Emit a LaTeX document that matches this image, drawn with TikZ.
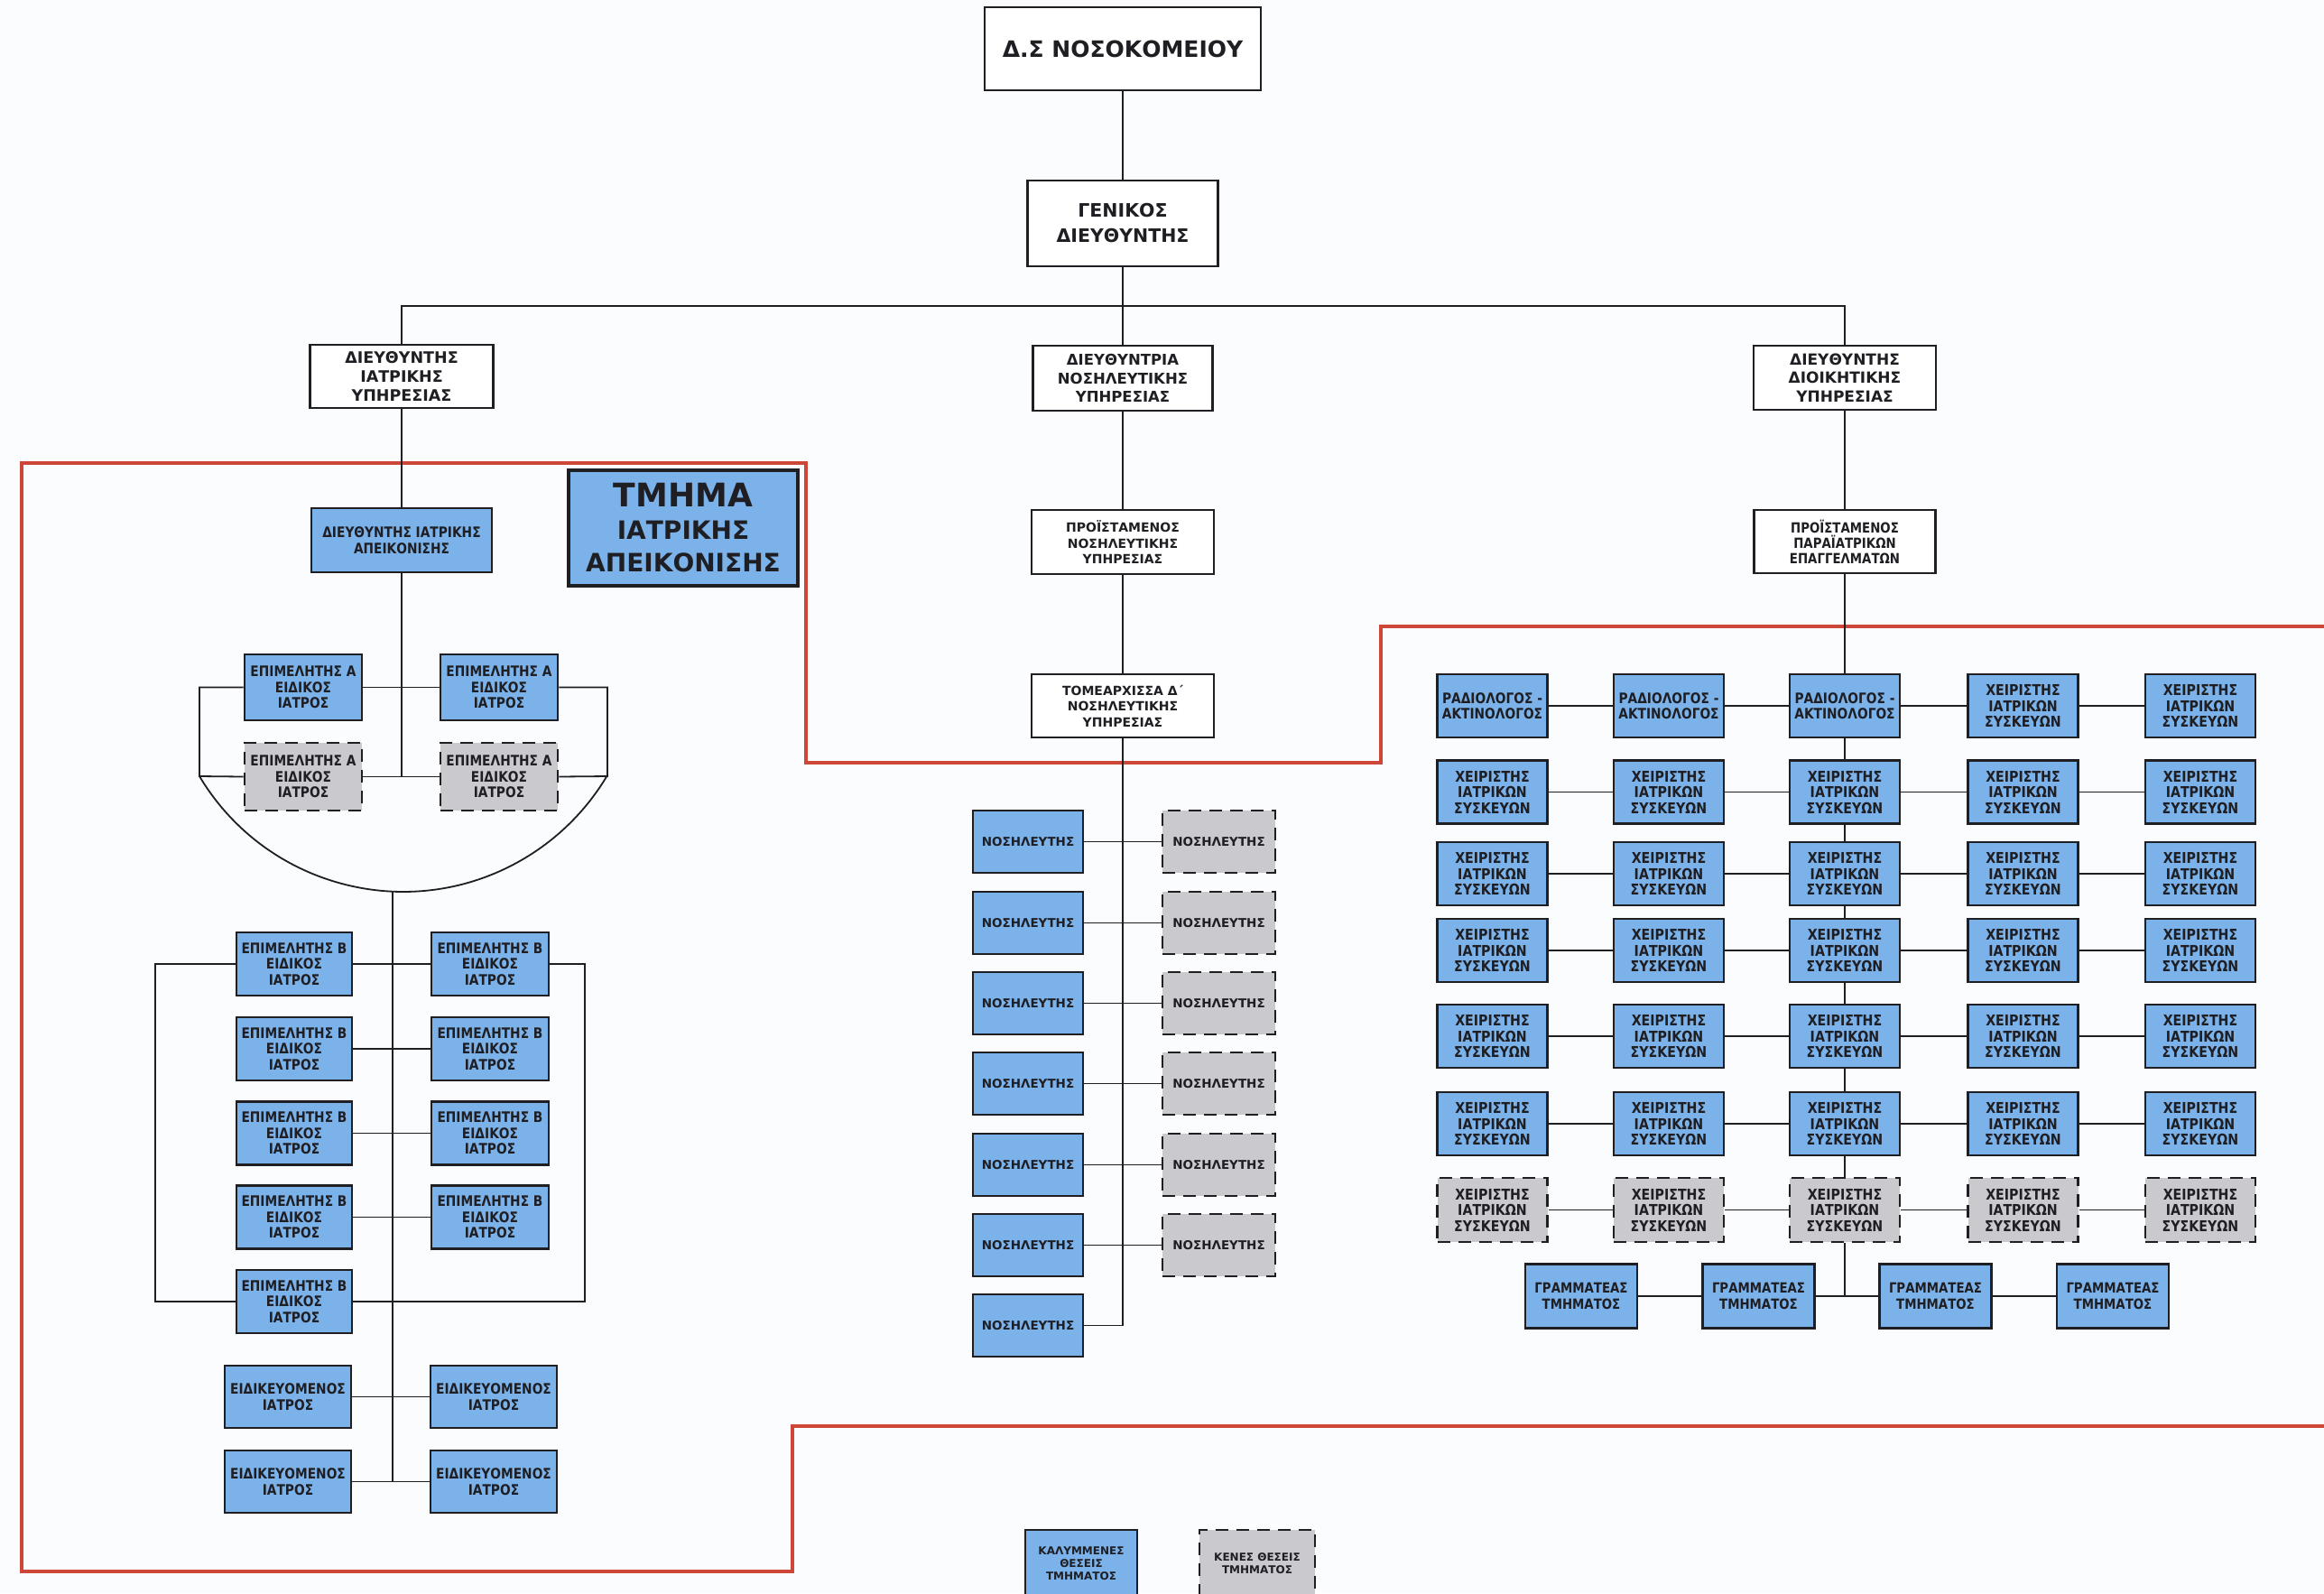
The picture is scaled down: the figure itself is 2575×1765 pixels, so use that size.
\documentclass[tikz,border=0pt]{standalone}
\usepackage{fontspec}
\setmainfont{DejaVu Sans}
\newfontfamily\condfam{DejaVu Sans}[FakeStretch=0.86]
\definecolor{ink}{RGB}{30,30,35}
\definecolor{boxblue}{RGB}{124,178,234}
\definecolor{boxgray}{RGB}{202,202,206}
\definecolor{framered}{RGB}{205,70,55}
\definecolor{paper}{RGB}{251,252,254}
\newcommand{\wideF}[2]{\fontsize{#1}{#2}\selectfont\bfseries}
\newcommand{\condF}[2]{\condfam\fontsize{#1}{#2}\selectfont\bfseries}
\tikzset{
  base/.style={draw=ink, line width=2.8pt, inner sep=0pt, align=center, text=ink},
  whitebox/.style={base, fill=white},
  bluebox/.style={base, fill=boxblue},
  graybox/.style={base, fill=boxgray, dash pattern=on 14pt off 9pt},
  sz/.style 2 args={minimum width=#1pt, minimum height=#2pt},
  conn/.style={draw=ink, line width=1.8pt},
  redframe/.style={draw=framered, line width=4.5pt, line join=miter},
}
\begin{document}
\begin{tikzpicture}[x=1pt,y=-1pt]
\useasboundingbox (0,0) rectangle (2575,1765);
\clip (0,0) rectangle (2575,1765);
\fill[paper] (0,0) rectangle (2575,1765);
% red department frame
\draw[redframe] (2600,694) -- (1530,694) -- (1530,845) -- (893,845) -- (893,513) -- (24,513) -- (24,1741) -- (878,1741) -- (878,1580) -- (2600,1580);

% top levels
\node[whitebox, sz={306}{92}, font=\wideF{25}{30}] (ds) at (1244,54) {Δ.Σ ΝΟΣΟΚΟΜΕΙΟΥ};
\node[whitebox, sz={211}{95}, font=\wideF{20.5}{28}] (gd) at (1244,247.5) {ΓΕΝΙΚΟΣ\\ΔΙΕΥΘΥΝΤΗΣ};
\node[whitebox, sz={203}{70}, font=\wideF{17.5}{20.7}] (dis) at (445,417) {ΔΙΕΥΘΥΝΤΗΣ\\ΙΑΤΡΙΚΗΣ\\ΥΠΗΡΕΣΙΑΣ};
\node[whitebox, sz={199}{72}, font=\wideF{16.5}{20.7}] (dns) at (1244,419) {ΔΙΕΥΘΥΝΤΡΙΑ\\ΝΟΣΗΛΕΥΤΙΚΗΣ\\ΥΠΗΡΕΣΙΑΣ};
\node[whitebox, sz={202}{71}, font=\wideF{17}{20.7}] (ddy) at (2044,418.5) {ΔΙΕΥΘΥΝΤΗΣ\\ΔΙΟΙΚΗΤΙΚΗΣ\\ΥΠΗΡΕΣΙΑΣ};
\node[whitebox, sz={202}{71}, font=\wideF{14}{17.5}] (pns) at (1244,600.5) {ΠΡΟΪΣΤΑΜΕΝΟΣ\\ΝΟΣΗΛΕΥΤΙΚΗΣ\\ΥΠΗΡΕΣΙΑΣ};
\node[whitebox, sz={202}{70}, font=\wideF{14}{17.5}] (tom) at (1244,782) {ΤΟΜΕΑΡΧΙΣΣΑ Δ΄\\ΝΟΣΗΛΕΥΤΙΚΗΣ\\ΥΠΗΡΕΣΙΑΣ};
\node[whitebox, sz={201}{70}, font=\condF{15.5}{17}] (ppe) at (2044,600) {ΠΡΟΪΣΤΑΜΕΝΟΣ\\ΠΑΡΑΪΑΤΡΙΚΩΝ\\ΕΠΑΓΓΕΛΜΑΤΩΝ};

% imaging department, left part
\node[bluebox, sz={200}{71}, font=\condF{16}{18}] (dia) at (445,598.5) {ΔΙΕΥΘΥΝΤΗΣ ΙΑΤΡΙΚΗΣ\\ΑΠΕΙΚΟΝΙΣΗΣ};
\node[bluebox, line width=4pt, sz={254}{128}, font=\wideF{28}{36}] (tm) at (757,585) {{\fontsize{36}{37}\selectfont ΤΜΗΜΑ}\\ΙΑΤΡΙΚΗΣ\\ΑΠΕΙΚΟΝΙΣΗΣ};

\node[bluebox, sz={130}{73}, font=\condF{16}{17.5}] (ea1) at (336,761.5) {ΕΠΙΜΕΛΗΤΗΣ Α\\ΕΙΔΙΚΟΣ\\ΙΑΤΡΟΣ};
\node[bluebox, sz={130}{73}, font=\condF{16}{17.5}] (ea2) at (553,761.5) {ΕΠΙΜΕΛΗΤΗΣ Α\\ΕΙΔΙΚΟΣ\\ΙΑΤΡΟΣ};
\node[graybox, sz={130}{75}, font=\condF{16}{17.5}] (ea3) at (336,860.5) {ΕΠΙΜΕΛΗΤΗΣ Α\\ΕΙΔΙΚΟΣ\\ΙΑΤΡΟΣ};
\node[graybox, sz={130}{75}, font=\condF{16}{17.5}] (ea4) at (553,860.5) {ΕΠΙΜΕΛΗΤΗΣ Α\\ΕΙΔΙΚΟΣ\\ΙΑΤΡΟΣ};

\foreach \i/\y in {1/1068,2/1162,3/1255.5,4/1348.5,5/1442} {
  \node[bluebox, sz={128}{70}, font=\condF{16}{17.5}] (eb\i L) at (326,\y) {ΕΠΙΜΕΛΗΤΗΣ Β\\ΕΙΔΙΚΟΣ\\ΙΑΤΡΟΣ};
}
\foreach \i/\y in {1/1068,2/1162,3/1255.5,4/1348.5} {
  \node[bluebox, sz={130}{70}, font=\condF{16}{17.5}] (eb\i R) at (543,\y) {ΕΠΙΜΕΛΗΤΗΣ Β\\ΕΙΔΙΚΟΣ\\ΙΑΤΡΟΣ};
}
\foreach \i/\y in {1/1547.5,2/1641.5} {
  \node[bluebox, sz={140}{69}, font=\condF{16}{18.5}] (ei\i L) at (319,\y) {ΕΙΔΙΚΕΥΟΜΕΝΟΣ\\ΙΑΤΡΟΣ};
  \node[bluebox, sz={140}{69}, font=\condF{16}{18.5}] (ei\i R) at (547,\y) {ΕΙΔΙΚΕΥΟΜΕΝΟΣ\\ΙΑΤΡΟΣ};
}

% nursing column
\foreach \i/\y in {1/932.5,2/1022.5,3/1111.5,4/1200.5,5/1290.5,6/1379.5,7/1468.5} {
  \node[bluebox, sz={122}{69}, font=\wideF{13.5}{16}] (nb\i) at (1139,\y) {ΝΟΣΗΛΕΥΤΗΣ};
}
\foreach \i/\y in {1/932.5,2/1022.5,3/1111.5,4/1200.5,5/1290.5,6/1379.5} {
  \node[graybox, sz={125}{69}, font=\wideF{13.5}{16}] (ng\i) at (1350.5,\y) {ΝΟΣΗΛΕΥΤΗΣ};
}

% paramedical grid
\foreach \c/\x in {1/1653.5,2/1849,3/2044} {
  \node[bluebox, sz={122}{70}, font=\condF{16}{17.5}] (g1\c) at (\x,782) {ΡΑΔΙΟΛΟΓΟΣ -\\ΑΚΤΙΝΟΛΟΓΟΣ};
}
\foreach \c/\x in {4/2241.5,5/2438} {
  \node[bluebox, sz={122}{70}, font=\condF{16.5}{17.5}] (g1\c) at (\x,782) {ΧΕΙΡΙΣΤΗΣ\\ΙΑΤΡΙΚΩΝ\\ΣΥΣΚΕΥΩΝ};
}
\foreach \c/\x in {1/1653.5,2/1849,3/2044,4/2241.5,5/2438} {
  \foreach \r/\y in {2/877.5,3/968,4/1053,5/1148,6/1245} {
    \node[bluebox, sz={122}{70}, font=\condF{16.5}{17.5}] (g\r\c) at (\x,\y) {ΧΕΙΡΙΣΤΗΣ\\ΙΑΤΡΙΚΩΝ\\ΣΥΣΚΕΥΩΝ};
  }
  \node[graybox, sz={122}{71}, font=\condF{16.5}{17.5}] (g7\c) at (\x,1340.5) {ΧΕΙΡΙΣΤΗΣ\\ΙΑΤΡΙΚΩΝ\\ΣΥΣΚΕΥΩΝ};
}
\foreach \i/\x in {1/1752,2/1948.5,3/2144.5,4/2341} {
  \node[bluebox, sz={124}{71}, font=\condF{15.5}{18}] (s\i) at (\x,1436) {ΓΡΑΜΜΑΤΕΑΣ\\ΤΜΗΜΑΤΟΣ};
}

% legend
\node[bluebox, sz={124}{75}, font=\wideF{12}{14}] (lb) at (1198,1732.5) {ΚΑΛΥΜΜΕΝΕΣ\\ΘΕΣΕΙΣ\\ΤΜΗΜΑΤΟΣ};
\node[graybox, sz={128}{75}, font=\wideF{12}{14}] (lg) at (1393,1732.5) {ΚΕΝΕΣ ΘΕΣΕΙΣ\\ΤΜΗΜΑΤΟΣ};

% coordinates for bends
\coordinate (tA) at (445,860);
\coordinate (arcL) at (221,860);
\coordinate (arcR) at (673,860);
\coordinate (arcB) at (435,988);
\coordinate (tEnd) at (435,1641.5);
\coordinate (bl) at (172,1442);
\coordinate (br) at (648,1442);
\coordinate (sJ) at (2044,1436);

% connectors: top
\draw[conn] (ds) -- (gd);
\draw[conn] (gd) -- (dns);
\draw[conn] (dis.north) -- ++(0,-42) -| (ddy.north);
\draw[conn] (dis) -- (dia);
\draw[conn] (dns) -- (pns);
\draw[conn] (pns) -- (tom);
\draw[conn] (ddy) -- (ppe);
\draw[conn] (ppe) -- (g13);

% imaging A-level
\draw[conn] (dia.south) -- (tA);
\draw[conn] (ea1) -- (ea2);
\draw[conn] (ea3) -- (ea4);
\draw[conn] (ea1.west) -| (arcL) -- (ea3.west);
\draw[conn] (ea2.east) -| (arcR) -- (ea4.east);
\draw[conn] (arcL) arc[start angle=210.9, end angle=329.1, radius=263pt];
\draw[conn] (arcB) -- (tEnd);
% B-level
\foreach \i in {1,2,3,4} { \draw[conn] (eb\i L) -- (eb\i R); }
\draw[conn] (eb1L.west) -| (bl) -- (eb5L.west);
\draw[conn] (eb1R.east) -| (br) -- (eb5L.east);
\draw[conn] (ei1L) -- (ei1R);
\draw[conn] (ei2L) -- (ei2R);

% nursing
\draw[conn] (tom.south) |- (nb7.east);
\foreach \i in {1,...,6} { \draw[conn] (nb\i) -- (ng\i); }

% grid
\foreach \r in {1,...,7} {
  \foreach \c/\d in {1/2,2/3,3/4,4/5} { \draw[conn] (g\r\c) -- (g\r\d); }
}
\foreach \r/\s in {1/2,2/3,3/4,4/5,5/6,6/7} { \draw[conn] (g\r3) -- (g\s3); }
\draw[conn] (g73.south) -- (sJ);
\draw[conn] (s1) -- (s2);
\draw[conn] (s2) -- (s3);
\draw[conn] (s3) -- (s4);
\end{tikzpicture}
\end{document}
